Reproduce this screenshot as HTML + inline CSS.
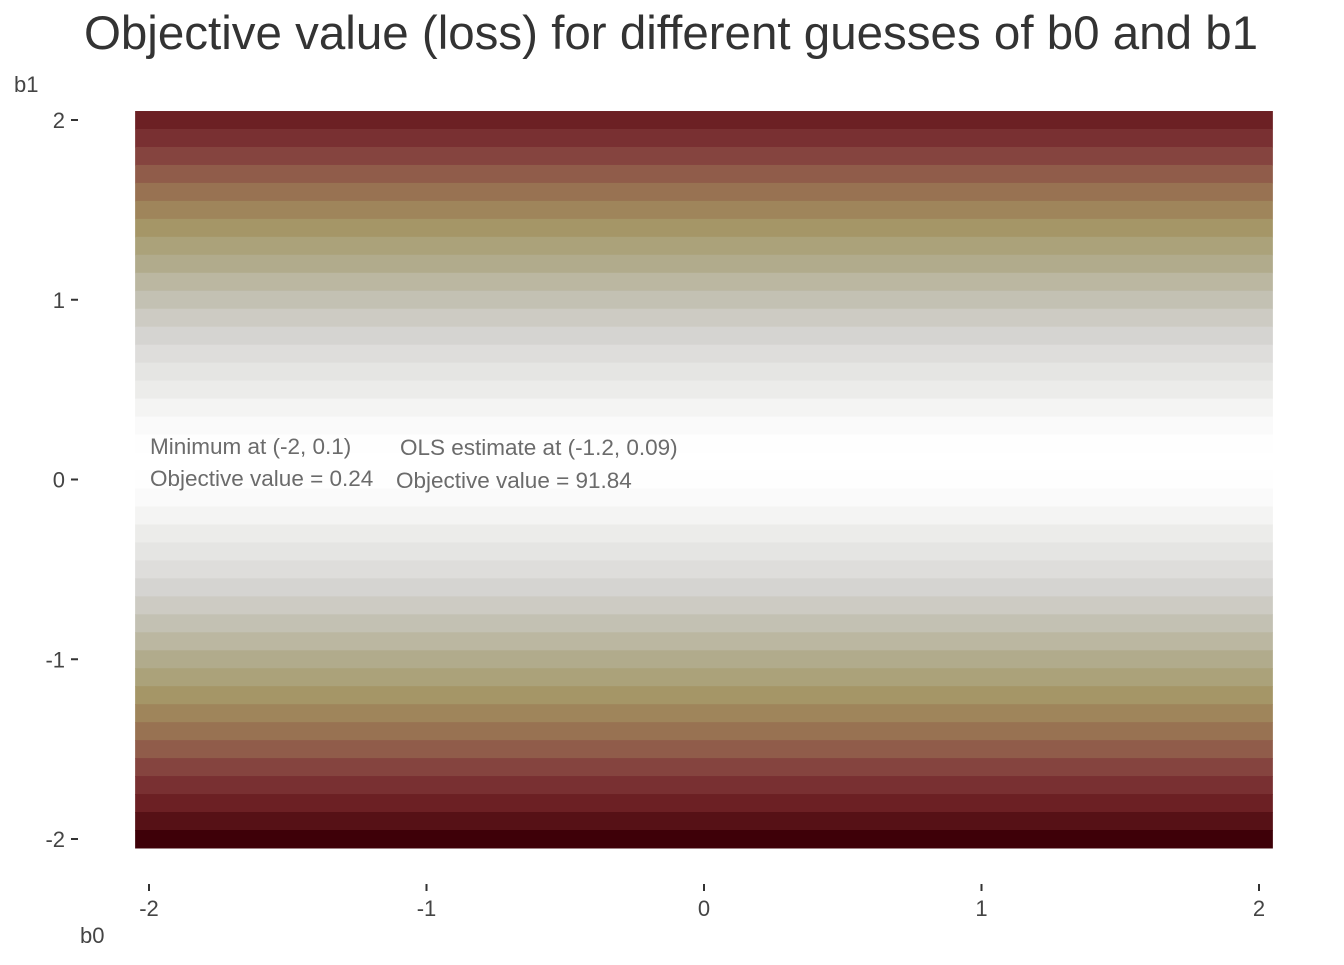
<!DOCTYPE html>
<html><head><meta charset="utf-8"><style>
body{margin:0;background:#fff}
svg text{font-family:"Liberation Sans",sans-serif}
</style></head><body>
<svg id="c" width="1344" height="960">
<text x="671" y="49" text-anchor="middle" font-size="47.5" fill="#333">Objective value (loss) for different guesses of b0 and b1</text>
<text x="14" y="92" font-size="22" fill="#444">b1</text>
<text x="80" y="943" font-size="22" fill="#444">b0</text>
<g id="cells"></g><g id="axes"></g>
<g font-size="22.5" fill="#6b6b6b">
<text x="150" y="454">Minimum at (-2, 0.1)</text>
<text x="150" y="486">Objective value = 0.24</text>
<text x="400" y="455">OLS estimate at (-1.2, 0.09)</text>
<text x="396" y="488">Objective value = 91.84</text>
</g>
</svg>
<script>
const b1Values=[2,1.9,1.8,1.7,1.6,1.5,1.4,1.3,1.2,1.1,1,0.9,0.8,0.7,0.6,0.5,0.4,0.3,0.2,0.1,0,-0.1,-0.2,-0.3,-0.4,-0.5,-0.6,-0.7,-0.8,-0.9,-1,-1.1,-1.2,-1.3,-1.4,-1.5,-1.6,-1.7,-1.8,-1.9,-2];
const lossValues=[361,324,289,256,225,196,169,144,121,100,81,64,49,36,25,16,9,4,1,0,1,4,9,16,25,36,49,64,81,100,121,144,169,196,225,256,289,324,361,400,441];
const xTicks=[-2,-1,0,1,2];
const yTicks=[-2,-1,0,1,2];
const NS="http://www.w3.org/2000/svg";
const xs=v=>149+(v+2)*277.5, ys=v=>839-(v+2)*179.75;
const stops=[[0,[255,255,255]],[0.04,[234,234,232]],[0.1,[216,215,213]],[0.18,[196,194,181]],[0.27,[178,172,142]],[0.37,[166,154,106]],[0.47,[156,126,86]],[0.58,[144,92,74]],[0.7,[126,54,56]],[0.82,[108,32,36]],[1,[62,0,8]]];
function col(t){for(let i=1;i<stops.length;i++){if(t<=stops[i][0]){const a=stops[i-1],b=stops[i],f=(t-a[0])/(b[0]-a[0]);return 'rgb('+a[1].map((c,k)=>Math.round(c+(b[1][k]-c)*f)).join(',')+')';}}return 'rgb(62,0,8)';}
const maxL=Math.max(...lossValues);
const cells=document.getElementById('cells');
b1Values.forEach((b,i)=>{const r=document.createElementNS(NS,'rect');
r.setAttribute('x',xs(-2.05));r.setAttribute('width',xs(2.05)-xs(-2.05));
r.setAttribute('y',ys(b+0.05));r.setAttribute('height',ys(b-0.05)-ys(b+0.05)+0.5);
r.setAttribute('fill',col(lossValues[i]/maxL));


cells.appendChild(r);});
const ax=document.getElementById('axes');
xTicks.forEach(v=>{const l=document.createElementNS(NS,'line');l.setAttribute('x1',xs(v));l.setAttribute('x2',xs(v));l.setAttribute('y1',884);l.setAttribute('y2',891);l.setAttribute('stroke','#333');l.setAttribute('stroke-width',2);


ax.appendChild(l);
const t=document.createElementNS(NS,'text');t.setAttribute('x',xs(v));t.setAttribute('y',916);t.setAttribute('text-anchor','middle');t.setAttribute('font-size','22');t.setAttribute('fill','#444');t.textContent=v;


ax.appendChild(t);});
yTicks.forEach(v=>{const l=document.createElementNS(NS,'line');l.setAttribute('x1',71);l.setAttribute('x2',78);l.setAttribute('y1',ys(v));l.setAttribute('y2',ys(v));l.setAttribute('stroke','#333');l.setAttribute('stroke-width',2);


ax.appendChild(l);
const t=document.createElementNS(NS,'text');t.setAttribute('x',65);t.setAttribute('y',ys(v)+8);t.setAttribute('text-anchor','end');t.setAttribute('font-size','22');t.setAttribute('fill','#444');t.textContent=v;


ax.appendChild(t);});
</script>
</body></html>
